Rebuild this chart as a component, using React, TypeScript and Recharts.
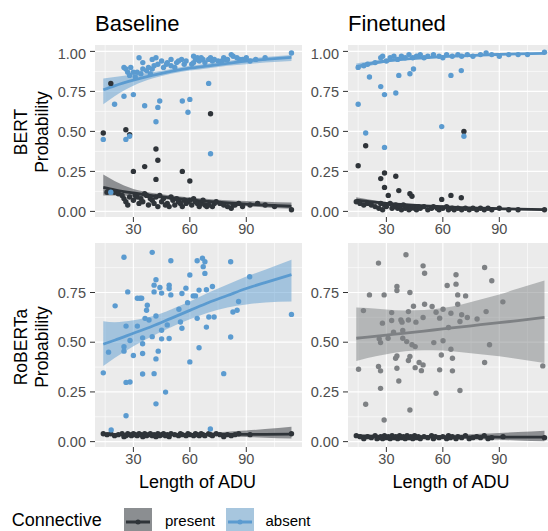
import { Area, CartesianGrid, ComposedChart, Line, Scatter, XAxis, YAxis } from 'recharts'

type Pt = [number, number]

const FONT = '"Liberation Sans", Arial, sans-serif'
const PRESENT = '#2f3439'
const ABSENT = '#5b9bd0'
const GREY = '#7e8184'

const xTicks = [30, 60, 90]
const xMinor = [15, 45, 75, 105]
const fitX = [14, 20, 30, 40, 50, 60, 70, 80, 90, 100, 114]

// BERT / Baseline
const bertBaseAbsent: Pt[] = [
  [14, 0.45], [18, 0.12], [20, 0.67], [25, 0.72], [25, 0.9], [26, 0.89], [26, 0.45], [28, 0.47], [30, 0.73], [27, 0.87],
  [28.6, 0.9], [33, 0.96], [32, 0.87], [36, 0.66], [35, 0.93], [37, 0.88], [40, 0.89], [40, 0.95], [42, 0.96], [42, 0.56],
  [43, 0.65], [44, 0.69], [45, 0.94], [47.6, 0.92], [50, 0.95], [56, 0.69], [55.6, 0.95], [54, 0.94], [59, 0.62], [60, 0.7],
  [61, 0.92], [62, 0.97], [64, 0.96], [67, 0.95], [70, 0.8], [71, 0.36], [72, 0.94], [77, 0.94], [79, 0.95], [82, 0.98],
  [86.5, 0.95], [92, 0.94], [114, 0.99], [28, 0.85], [30, 0.87], [31, 0.84], [34, 0.86], [35, 0.89], [38, 0.9], [39, 0.86],
  [41, 0.91], [43, 0.92], [46, 0.9], [48, 0.93], [50, 0.91], [52, 0.9], [53, 0.93], [57, 0.92], [58, 0.94], [62, 0.93],
  [63, 0.95], [65, 0.94], [66, 0.96], [68, 0.93], [70, 0.95], [71, 0.96], [73, 0.95], [75, 0.94], [78, 0.96], [80, 0.95],
  [83, 0.97], [85, 0.96], [88, 0.95], [90, 0.96], [95, 0.95], [100, 0.96],
]
const bertBasePresent: Pt[] = [
  [14, 0.49], [18, 0.8], [26, 0.51], [28, 0.48], [30, 0.25], [36, 0.28], [42, 0.39], [43, 0.32], [42, 0.2], [56, 0.25],
  [60, 0.19], [71, 0.61], [114, 0.01], [16, 0.12], [17, 0.13], [20, 0.12], [22, 0.11], [24, 0.1], [25, 0.08], [26, 0.06],
  [27, 0.04], [28, 0.09], [30, 0.07], [31, 0.1], [32, 0.09], [33, 0.05], [34, 0.08], [35, 0.06], [36, 0.11], [37, 0.1],
  [38, 0.04], [39, 0.08], [40, 0.07], [41, 0.05], [42, 0.09], [43, 0.03], [44, 0.1], [45, 0.06], [46, 0.08], [47, 0.04],
  [48, 0.05], [49, 0.03], [50, 0.09], [51, 0.07], [52, 0.04], [53, 0.08], [54, 0.06], [55, 0.05], [56, 0.03], [57, 0.07],
  [58, 0.05], [59, 0.06], [60, 0.07], [61, 0.04], [62, 0.08], [63, 0.06], [64, 0.05], [65, 0.03], [66, 0.05], [67, 0.07],
  [68, 0.04], [69, 0.03], [70, 0.04], [72, 0.03], [73, 0.05], [74, 0.06], [76, 0.05], [78, 0.04], [80, 0.03], [82, 0.02],
  [83, 0.04], [84, 0.04], [86, 0.05], [88, 0.03], [92, 0.04], [96, 0.05], [100, 0.04], [105, 0.03],
]
const bertBaseAbsentFit = [0.76, 0.785, 0.82, 0.85, 0.875, 0.895, 0.91, 0.925, 0.94, 0.95, 0.963]
const bertBaseAbsentLo = [0.67, 0.72, 0.785, 0.83, 0.86, 0.88, 0.895, 0.91, 0.92, 0.93, 0.94]
const bertBaseAbsentHi = [0.83, 0.84, 0.855, 0.87, 0.89, 0.91, 0.925, 0.94, 0.955, 0.965, 0.978]
const bertBasePresentFit = [0.15, 0.135, 0.115, 0.098, 0.085, 0.072, 0.062, 0.053, 0.045, 0.039, 0.032]
const bertBasePresentLo = [0.1, 0.1, 0.095, 0.085, 0.072, 0.06, 0.05, 0.04, 0.032, 0.025, 0.017]
const bertBasePresentHi = [0.23, 0.19, 0.14, 0.115, 0.1, 0.087, 0.078, 0.07, 0.065, 0.06, 0.055]

// BERT / Finetuned
const bertFineAbsent: Pt[] = [
  [15, 0.67], [19, 0.49], [21, 0.84], [27, 0.78], [29, 0.73], [29, 0.4], [35, 0.74], [36.6, 0.85], [42.5, 0.86], [44.4, 0.89],
  [59.4, 0.53], [64.3, 0.85], [69.8, 0.88], [71.2, 0.47], [114, 0.995], [15, 0.9], [18, 0.91], [20, 0.92], [24, 0.93], [27, 0.96],
  [28, 0.97], [30, 0.94], [32, 0.96], [34, 0.97], [36, 0.95], [38, 0.97], [40, 0.96], [42, 0.98], [44, 0.96], [46, 0.97],
  [48, 0.98], [50, 0.96], [52, 0.97], [55, 0.98], [58, 0.97], [60, 0.96], [62, 0.98], [65, 0.97], [68, 0.98], [70, 0.97],
  [73, 0.98], [76, 0.97], [80, 0.98], [83, 0.99], [86, 0.98], [90, 0.97], [95, 0.98], [100, 0.98], [105, 0.98],
]
const bertFinePresent: Pt[] = [
  [15, 0.285], [19, 0.41], [27, 0.205], [29, 0.24], [29, 0.15], [31, 0.1], [35, 0.22], [36.6, 0.13], [42.5, 0.11], [43.6, 0.095],
  [59.4, 0.075], [64.3, 0.1], [69.8, 0.085], [71.2, 0.5], [114, 0.01], [14, 0.06], [16, 0.05], [18, 0.04], [20, 0.05], [22, 0.04],
  [24, 0.03], [26, 0.02], [27, 0.05], [28, 0.01], [29, 0.04], [30, 0.03], [32, 0.05], [33, 0.02], [34, 0.03], [35, 0.04],
  [36, 0.02], [37, 0.03], [38, 0.01], [39, 0.04], [40, 0.02], [41, 0.03], [42, 0.01], [43, 0.02], [44, 0.03], [45, 0.02],
  [46, 0.01], [47, 0.03], [48, 0.02], [50, 0.03], [52, 0.01], [54, 0.02], [55, 0.03], [57, 0.02], [58, 0.01], [60, 0.02],
  [62, 0.03], [63, 0.01], [65, 0.02], [66, 0.01], [68, 0.02], [70, 0.01], [72, 0.02], [74, 0.01], [76, 0.02], [78, 0.01],
  [80, 0.02], [82, 0.01], [84, 0.02], [86, 0.01], [90, 0.02], [95, 0.01], [100, 0.01],
]
const bertFineAbsentFit = [0.905, 0.92, 0.94, 0.952, 0.96, 0.967, 0.972, 0.977, 0.981, 0.984, 0.988]
const bertFineAbsentLo = [0.885, 0.905, 0.93, 0.945, 0.955, 0.963, 0.968, 0.973, 0.977, 0.98, 0.983]
const bertFineAbsentHi = [0.925, 0.935, 0.95, 0.958, 0.965, 0.971, 0.976, 0.981, 0.985, 0.988, 0.992]
const bertFinePresentFit = [0.07, 0.062, 0.05, 0.042, 0.035, 0.029, 0.024, 0.02, 0.017, 0.014, 0.011]
const bertFinePresentLo = [0.05, 0.048, 0.042, 0.036, 0.03, 0.024, 0.019, 0.015, 0.012, 0.009, 0.006]
const bertFinePresentHi = [0.088, 0.076, 0.059, 0.048, 0.04, 0.034, 0.029, 0.026, 0.023, 0.02, 0.017]

// RoBERTa / Baseline
const robBaseAbsent: Pt[] = [
  [14, 0.346], [16.8, 0.45], [18.2, 0.059], [20.3, 0.683], [25, 0.927], [25, 0.477], [25, 0.455], [26.1, 0.581], [26.1, 0.298], [26.1, 0.13],
  [27, 0.753], [28.2, 0.3], [28.2, 0.509], [30, 0.433], [32.1, 0.581], [32.1, 0.721], [33.5, 0.721], [34.4, 0.721], [34.9, 0.522], [34.9, 0.492],
  [34.9, 0.443], [34.9, 0.34], [36.2, 0.62], [37, 0.661], [37.4, 0.686], [38.3, 0.612], [40, 0.952], [40, 0.528], [41, 0.342], [41, 0.753],
  [41, 0.787], [42, 0.814], [42, 0.632], [42, 0.416], [42, 0.19], [43.2, 0.455], [44.1, 0.775], [45, 0.747], [45, 0.56], [45, 0.517],
  [47.1, 0.249], [48, 0.587], [49, 0.787], [49, 0.77], [49, 0.519], [49.9, 0.91], [49.9, 0.738], [54.2, 0.666], [55, 0.602], [55.8, 0.57],
  [55.8, 0.745], [57.9, 0.772], [58.8, 0.699], [60, 0.401], [60, 0.838], [61.8, 0.733], [63, 0.733], [63.9, 0.62], [63.9, 0.91], [64.9, 0.472],
  [64.9, 0.762], [66.7, 0.922], [67.1, 0.88], [68, 0.905], [68, 0.846], [68.8, 0.764], [68.8, 0.576], [70.1, 0.627], [70.9, 0.064], [72, 0.78],
  [72.9, 0.627], [78, 0.342], [81.7, 0.905], [81.7, 0.526], [82.9, 0.652], [85.1, 0.661], [85.9, 0.705], [91.8, 0.829], [114, 0.64],
]
const robBasePresent: Pt[] = [
  [14, 0.04], [16, 0.035], [18, 0.04], [20, 0.03], [22, 0.035], [24, 0.04], [25, 0.025], [26, 0.03], [27, 0.04], [28, 0.035],
  [29, 0.03], [30, 0.04], [31, 0.035], [32, 0.03], [33, 0.04], [34, 0.035], [35, 0.025], [36, 0.04], [37, 0.03], [38, 0.035],
  [39, 0.04], [40, 0.03], [41, 0.035], [42, 0.025], [43, 0.04], [44, 0.03], [45, 0.035], [46, 0.04], [47, 0.03], [48, 0.035],
  [49, 0.025], [50, 0.04], [52, 0.035], [54, 0.03], [55, 0.04], [56, 0.035], [58, 0.03], [59, 0.04], [60, 0.035], [62, 0.03],
  [63, 0.04], [64, 0.035], [65, 0.03], [66, 0.04], [67, 0.035], [68, 0.03], [70, 0.04], [71, 0.035], [72, 0.03], [74, 0.04],
  [76, 0.035], [78, 0.025], [80, 0.035], [82, 0.03], [84, 0.035], [86, 0.04], [92, 0.035], [114, 0.04],
]
const robBaseAbsentFit = [0.49, 0.51, 0.545, 0.58, 0.62, 0.66, 0.7, 0.735, 0.77, 0.8, 0.84]
const robBaseAbsentLo = [0.38, 0.42, 0.48, 0.53, 0.575, 0.615, 0.65, 0.675, 0.69, 0.7, 0.705]
const robBaseAbsentHi = [0.605, 0.6, 0.61, 0.63, 0.665, 0.705, 0.75, 0.79, 0.83, 0.865, 0.915]
const robBasePresentFit = [0.035, 0.035, 0.035, 0.035, 0.035, 0.036, 0.036, 0.036, 0.037, 0.037, 0.038]
const robBasePresentLo = [0.028, 0.029, 0.031, 0.032, 0.032, 0.031, 0.029, 0.026, 0.023, 0.02, 0.016]
const robBasePresentHi = [0.043, 0.042, 0.04, 0.039, 0.039, 0.041, 0.045, 0.05, 0.056, 0.063, 0.075]

// RoBERTa / Finetuned
const robFineAbsent: Pt[] = [
  [15.2, 0.364], [17.8, 0.659], [19, 0.188], [21, 0.738], [25.8, 0.898], [25.8, 0.378], [26.2, 0.517], [26.9, 0.498], [26.9, 0.356], [26.9, 0.268],
  [27.9, 0.596], [28.8, 0.738], [28.8, 0.109], [30.9, 0.52], [32.8, 0.649], [32.8, 0.609], [33.8, 0.55], [34.9, 0.419], [35.6, 0.431], [35.6, 0.78],
  [35.6, 0.76], [35.6, 0.369], [36.6, 0.305], [37.7, 0.612], [38.3, 0.601], [38.7, 0.559], [38.7, 0.52], [40.4, 0.94], [40.8, 0.503], [41.7, 0.654],
  [41.7, 0.612], [41.7, 0.408], [42.5, 0.75], [42.5, 0.428], [42.5, 0.159], [43.6, 0.487], [44.4, 0.681], [45.3, 0.478], [45.3, 0.372], [45.7, 0.601],
  [47.4, 0.398], [48.6, 0.357], [49.5, 0.624], [49.5, 0.386], [49.5, 0.884], [50.3, 0.847], [50.3, 0.691], [54.3, 0.68], [55.2, 0.498], [56.4, 0.651],
  [56.4, 0.243], [58.3, 0.621], [58.3, 0.361], [59.2, 0.436], [60.1, 0.666], [60.1, 0.507], [62.3, 0.785], [63, 0.574], [64.3, 0.465], [64.3, 0.646],
  [65.1, 0.419], [65.1, 0.356], [67, 0.792], [67, 0.839], [67.9, 0.691], [67.9, 0.738], [69.1, 0.604], [69.1, 0.257], [70, 0.638], [72.1, 0.733],
  [73, 0.624], [78.2, 0.617], [82.2, 0.876], [82.2, 0.398], [83, 0.654], [84.8, 0.487], [86, 0.809], [91.9, 0.703], [113.1, 0.381],
]
const robFinePresent: Pt[] = [
  [14, 0.03], [16, 0.025], [18, 0.015], [20, 0.025], [22, 0.02], [24, 0.03], [25, 0.015], [26, 0.02], [27, 0.025], [28, 0.015],
  [29, 0.03], [30, 0.02], [31, 0.025], [32, 0.015], [33, 0.03], [34, 0.02], [35, 0.025], [36, 0.015], [37, 0.03], [38, 0.02],
  [39, 0.025], [40, 0.015], [41, 0.03], [42, 0.02], [43, 0.025], [44, 0.015], [45, 0.03], [46, 0.02], [47, 0.025], [48, 0.015],
  [50, 0.025], [52, 0.02], [54, 0.03], [55, 0.015], [56, 0.025], [58, 0.02], [60, 0.025], [62, 0.015], [63, 0.03], [64, 0.02],
  [65, 0.025], [67, 0.015], [68, 0.025], [70, 0.02], [72, 0.03], [74, 0.015], [76, 0.02], [78, 0.025], [80, 0.02], [82, 0.03],
  [84, 0.015], [86, 0.02], [92, 0.025], [114, 0.02],
]
const robFineAbsentFit = [0.52, 0.526, 0.536, 0.546, 0.556, 0.567, 0.577, 0.588, 0.598, 0.609, 0.625]
const robFineAbsentLo = [0.405, 0.42, 0.44, 0.455, 0.46, 0.458, 0.45, 0.44, 0.43, 0.415, 0.395]
const robFineAbsentHi = [0.675, 0.672, 0.665, 0.66, 0.662, 0.672, 0.69, 0.715, 0.74, 0.77, 0.81]
const robFinePresentFit = [0.028, 0.027, 0.026, 0.025, 0.025, 0.024, 0.024, 0.024, 0.023, 0.023, 0.023]
const robFinePresentLo = [0.02, 0.02, 0.021, 0.021, 0.02, 0.018, 0.015, 0.012, 0.009, 0.006, 0.002]
const robFinePresentHi = [0.038, 0.036, 0.033, 0.031, 0.031, 0.033, 0.036, 0.04, 0.044, 0.048, 0.055]

type Series = { pts: Pt[]; fit: number[]; lo: number[]; hi: number[]; color: string }

const dot = (color: string) => (p: any) => <circle cx={p.cx} cy={p.cy} r={2.7} fill={color} />

const fmt = (v: number) => v.toFixed(2)

function Panel({ left, top, w, h, yDomain, yTicks, yMinor, series }: {
  left: number; top: number; w: number; h: number; yDomain: [number, number]; yTicks: number[]; yMinor: number[]; series: Series[]
}) {
  const AX = 50
  const AXH = 24
  const data = fitX.map((x, i) => {
    const row: any = { x }
    series.forEach((s, k) => {
      row['fit' + k] = s.fit[i]
      row['band' + k] = [s.lo[i], s.hi[i]]
    })
    return row
  })
  const tickStyle = { fill: '#4d4d4d', fontSize: 14.5, fontFamily: FONT }
  return (
    <div style={{ position: 'absolute', left: left - AX, top }}>
      <ComposedChart width={w + AX} height={h + AXH} data={data} margin={{ top: 0, right: 0, bottom: 0, left: 0 }}>
        <CartesianGrid fill="#ebebeb" stroke="#ffffff" strokeWidth={0.6} horizontalValues={yMinor} verticalValues={xMinor} />
        <CartesianGrid fill="none" stroke="#ffffff" strokeWidth={1.2} horizontalValues={yTicks} verticalValues={xTicks} />
        <XAxis type="number" dataKey="x" domain={[9.6, 119.6]} ticks={xTicks} allowDataOverflow height={AXH}
          tickSize={5} tickMargin={2} axisLine={false} tickLine={{ stroke: '#333333' }} tick={tickStyle} />
        <YAxis type="number" dataKey="y" domain={yDomain} ticks={yTicks} allowDataOverflow width={AX}
          tickSize={5} tickMargin={4} axisLine={false} tickLine={{ stroke: '#333333' }} tick={tickStyle} tickFormatter={fmt} />
        {series.map((s, k) => (
          <Scatter key={'s' + k} data={s.pts.map(([x, y]) => ({ x, y }))} fill={s.color} shape={dot(s.color)} isAnimationActive={false} />
        ))}
        {series.map((s, k) => (
          <Area key={'a' + k} type="monotone" dataKey={'band' + k} stroke="none" fill={s.color} fillOpacity={0.5} isAnimationActive={false} />
        ))}
        {series.map((s, k) => (
          <Line key={'l' + k} type="monotone" dataKey={'fit' + k} stroke={s.color} strokeWidth={2.8} dot={false} activeDot={false} isAnimationActive={false} />
        ))}
      </ComposedChart>
    </div>
  )
}

const topTicks = [0, 0.25, 0.5, 0.75, 1]
const topMinor = [0.125, 0.375, 0.625, 0.875]
const botTicks = [0, 0.25, 0.5, 0.75]
const botMinor = [0.125, 0.375, 0.625, 0.875]

export default function App() {
  return (
    <div style={{ position: 'absolute', left: 0, top: 0, width: 548, height: 531, overflow: 'hidden', background: '#ffffff', fontFamily: FONT }}>
      <Panel left={95} top={45} w={207} h={172} yDomain={[-0.035, 1.04]} yTicks={topTicks} yMinor={topMinor} series={[
        { pts: bertBasePresent, fit: bertBasePresentFit, lo: bertBasePresentLo, hi: bertBasePresentHi, color: PRESENT },
        { pts: bertBaseAbsent, fit: bertBaseAbsentFit, lo: bertBaseAbsentLo, hi: bertBaseAbsentHi, color: ABSENT },
      ]} />
      <Panel left={348} top={45} w={207} h={172} yDomain={[-0.035, 1.04]} yTicks={topTicks} yMinor={topMinor} series={[
        { pts: bertFinePresent, fit: bertFinePresentFit, lo: bertFinePresentLo, hi: bertFinePresentHi, color: PRESENT },
        { pts: bertFineAbsent, fit: bertFineAbsentFit, lo: bertFineAbsentLo, hi: bertFineAbsentHi, color: ABSENT },
      ]} />
      <Panel left={95} top={243} w={207} h={204} yDomain={[-0.027, 0.999]} yTicks={botTicks} yMinor={botMinor} series={[
        { pts: robBasePresent, fit: robBasePresentFit, lo: robBasePresentLo, hi: robBasePresentHi, color: PRESENT },
        { pts: robBaseAbsent, fit: robBaseAbsentFit, lo: robBaseAbsentLo, hi: robBaseAbsentHi, color: ABSENT },
      ]} />
      <Panel left={348} top={243} w={207} h={204} yDomain={[-0.027, 0.999]} yTicks={botTicks} yMinor={botMinor} series={[
        { pts: robFinePresent, fit: robFinePresentFit, lo: robFinePresentLo, hi: robFinePresentHi, color: PRESENT },
        { pts: robFineAbsent, fit: robFineAbsentFit, lo: robFineAbsentLo, hi: robFineAbsentHi, color: GREY },
      ]} />
      <svg width={548} height={531} style={{ position: 'absolute', left: 0, top: 0, pointerEvents: 'none' }} fontFamily={FONT}>
        <text x={95} y={31} fontSize={22} fill="#000">Baseline</text>
        <text x={348} y={31} fontSize={22} fill="#000">Finetuned</text>
        <text x={197.5} y={488} fontSize={18} fill="#000" textAnchor="middle">Length of ADU</text>
        <text x={451} y={488} fontSize={18} fill="#000" textAnchor="middle">Length of ADU</text>
        <text x={27} y={132} fontSize={17.5} fill="#000" textAnchor="middle" transform="rotate(-90 27 132)">BERT</text>
        <text x={47.5} y={132} fontSize={17.5} fill="#000" textAnchor="middle" transform="rotate(-90 47.5 132)">Probability</text>
        <text x={27} y={347} fontSize={17.5} fill="#000" textAnchor="middle" transform="rotate(-90 27 347)">RoBERTa</text>
        <text x={47.5} y={347} fontSize={17.5} fill="#000" textAnchor="middle" transform="rotate(-90 47.5 347)">Probability</text>
        <text x={11.7} y={526} fontSize={18} fill="#000">Connective</text>
        <rect x={124} y={508} width={28} height={27} fill="#8b8e91" />
        <line x1={126} y1={522} x2={150} y2={522} stroke={PRESENT} strokeWidth={3} />
        <circle cx={138} cy={522} r={2.5} fill={PRESENT} />
        <text x={165} y={526} fontSize={15} fill="#000">present</text>
        <rect x={226} y={508} width={28} height={27} fill="#a7c6de" />
        <line x1={228} y1={522} x2={252} y2={522} stroke={ABSENT} strokeWidth={3} />
        <circle cx={240} cy={522} r={2.5} fill={ABSENT} />
        <text x={265.5} y={526} fontSize={15} fill="#000">absent</text>
      </svg>
    </div>
  )
}
